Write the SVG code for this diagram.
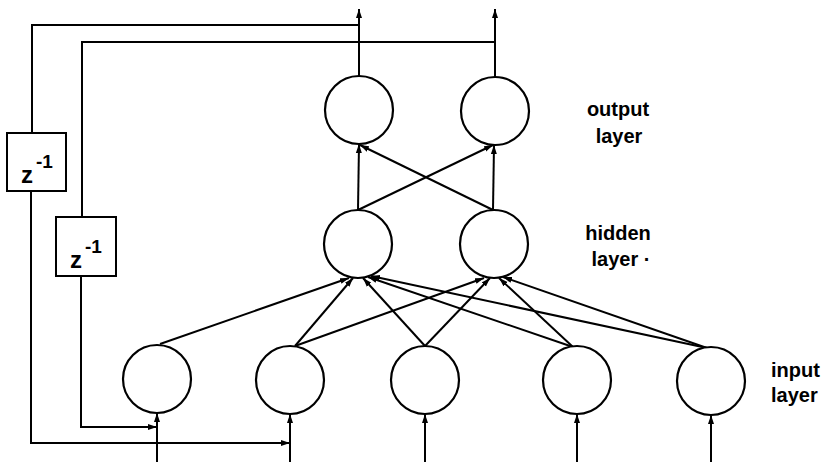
<svg xmlns="http://www.w3.org/2000/svg" width="821" height="462" viewBox="0 0 821 462">
<style>
.node{fill:#fff;stroke:#000;stroke-width:2.2}
.ln{fill:none;stroke:#000;stroke-width:2}
.box{fill:#fff;stroke:#000;stroke-width:2}
.lbl{font-family:"Liberation Sans",Arial,sans-serif;font-weight:bold;font-size:20px;fill:#000}
.z{font-family:"Liberation Sans",Arial,sans-serif;font-weight:bold;fill:#000}
</style>
<defs>
<marker id="ah" markerUnits="userSpaceOnUse" markerWidth="9" markerHeight="7" refX="9" refY="3.5" orient="auto">
<path d="M0,0.5 L9,3.5 L0,6.5 z" fill="#000"/>
</marker>
</defs>
<rect width="821" height="462" fill="#fff"/>
<g id="connectors">
<line class="ln" x1="359" y1="76" x2="359" y2="9" marker-end="url(#ah)"/>
<line class="ln" x1="495" y1="77" x2="495" y2="9" marker-end="url(#ah)"/>
<polyline class="ln" points="359,25 32,25 32,133"/>
<polyline class="ln" points="31,191 31,443 290,443" marker-end="url(#ah)"/>
<polyline class="ln" points="495,42 82,42 82,217"/>
<polyline class="ln" points="81,276 81,427 157,427" marker-end="url(#ah)"/>
<line class="ln" x1="358" y1="210" x2="359" y2="144" marker-end="url(#ah)"/>
<line class="ln" x1="358" y1="210" x2="493" y2="145" marker-end="url(#ah)"/>
<line class="ln" x1="493" y1="210" x2="360" y2="145" marker-end="url(#ah)"/>
<line class="ln" x1="493" y1="210" x2="494" y2="145" marker-end="url(#ah)"/>
<line class="ln" x1="160" y1="344" x2="349" y2="278" marker-end="url(#ah)"/>
<line class="ln" x1="295" y1="346" x2="353" y2="278" marker-end="url(#ah)"/>
<line class="ln" x1="295" y1="346" x2="484" y2="278" marker-end="url(#ah)"/>
<line class="ln" x1="425" y1="346" x2="363" y2="278" marker-end="url(#ah)"/>
<line class="ln" x1="425" y1="346" x2="490" y2="278" marker-end="url(#ah)"/>
<line class="ln" x1="573" y1="347" x2="368" y2="277" marker-end="url(#ah)"/>
<line class="ln" x1="573" y1="347" x2="499" y2="278" marker-end="url(#ah)"/>
<line class="ln" x1="707" y1="348" x2="371" y2="276" marker-end="url(#ah)"/>
<line class="ln" x1="707" y1="348" x2="503" y2="277" marker-end="url(#ah)"/>
<line class="ln" x1="157" y1="462" x2="157" y2="413" marker-end="url(#ah)"/>
<line class="ln" x1="290" y1="462" x2="290" y2="414" marker-end="url(#ah)"/>
<line class="ln" x1="425" y1="462" x2="425" y2="414" marker-end="url(#ah)"/>
<line class="ln" x1="577" y1="462" x2="577" y2="414" marker-end="url(#ah)"/>
<line class="ln" x1="711" y1="462" x2="711" y2="415" marker-end="url(#ah)"/>
</g>
<g id="delay1">
<rect class="box" x="7" y="133" width="59" height="58"/>
<text class="z" x="21" y="183" font-size="24">z</text>
<text class="z" x="36" y="168" font-size="19">-1</text>
</g>
<g id="delay2">
<rect class="box" x="56" y="217" width="60" height="59"/>
<text class="z" x="70" y="268" font-size="24">z</text>
<text class="z" x="85" y="253" font-size="19">-1</text>
</g>
<g id="out1"><circle class="node" cx="359" cy="110" r="34"/></g>
<g id="out2"><circle class="node" cx="495" cy="111" r="34"/></g>
<g id="hid1"><circle class="node" cx="358" cy="244" r="34"/></g>
<g id="hid2"><circle class="node" cx="494" cy="244" r="34"/></g>
<g id="in1"><circle class="node" cx="157" cy="379" r="34"/></g>
<g id="in2"><circle class="node" cx="290" cy="380" r="34"/></g>
<g id="in3"><circle class="node" cx="425" cy="380" r="34"/></g>
<g id="in4"><circle class="node" cx="577" cy="380" r="34"/></g>
<g id="in5"><circle class="node" cx="711" cy="381" r="34"/></g>
<g id="labels">
<text class="lbl" x="618" y="116" text-anchor="middle">output</text>
<text class="lbl" x="619" y="143" text-anchor="middle">layer</text>
<text class="lbl" x="618" y="240" text-anchor="middle">hidden</text>
<text class="lbl" x="621" y="266" text-anchor="middle">layer ·</text>
<text class="lbl" x="771" y="377">input</text>
<text class="lbl" x="771" y="402">layer</text>
</g>
</svg>
